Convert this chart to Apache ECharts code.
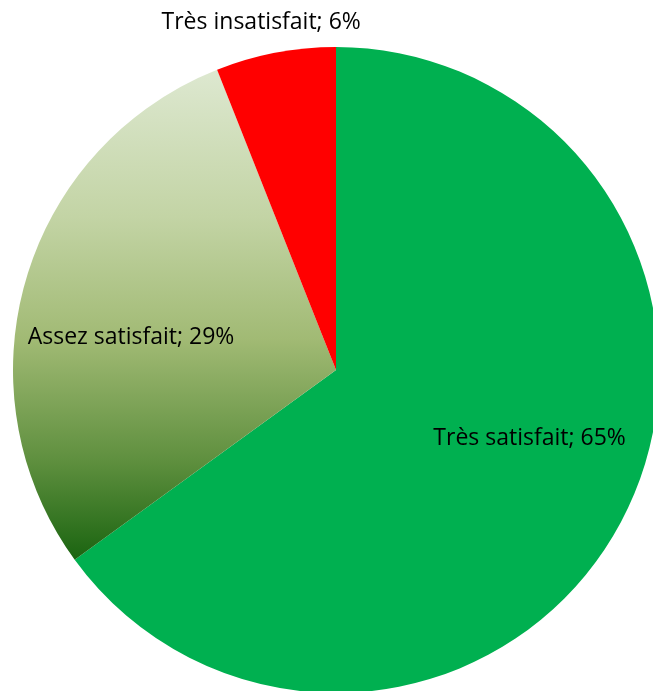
<!DOCTYPE html>
<html>
<head>
<meta charset="utf-8">
<script src="https://cdn.jsdelivr.net/npm/echarts@6/dist/echarts.min.js"></script>
<style>
  html, body { margin: 0; padding: 0; background: #fff; }
  #chart { width: 653px; height: 691px; }
</style>
</head>
<body>
<div id="chart"></div>
<script>
// Satisfaction survey breakdown
const categories = ['Très satisfait', 'Assez satisfait', 'Très insatisfait'];
const shares = [65, 29, 6];

const fills = [
  '#00B050',
  {
    type: 'linear', x: 0, y: 0, x2: 0, y2: 1,
    colorStops: [
      { offset: 0, color: '#DDE8D0' },
      { offset: 0.3, color: '#C3D4A5' },
      { offset: 0.55, color: '#A1BA74' },
      { offset: 0.8, color: '#5E8F3E' },
      { offset: 1, color: '#1A6410' }
    ]
  },
  '#FF0000'
];

// label nudges, per slice
const labelOffsets = [[47, -6], [-47, 13], [-44, -186]];

const chart = echarts.init(document.getElementById('chart'), null, { renderer: 'canvas' });

chart.setOption({
  animation: false,
  backgroundColor: '#ffffff',
  series: [{
    type: 'pie',
    center: [336, 370],
    radius: 323,
    startAngle: 90,
    clockwise: true,
    avoidLabelOverlap: false,
    labelLine: { show: false },
    label: {
      show: true,
      position: 'inside',
      color: '#000',
      fontFamily: 'Open Sans',
      fontSize: 23,
      formatter: p => p.name + '; ' + p.value + '%'
    },
    emphasis: { disabled: true },
    data: categories.map((name, i) => ({
      name,
      value: shares[i],
      itemStyle: { color: fills[i] },
      label: { offset: labelOffsets[i] }
    }))
  }]
});
</script>
</body>
</html>
